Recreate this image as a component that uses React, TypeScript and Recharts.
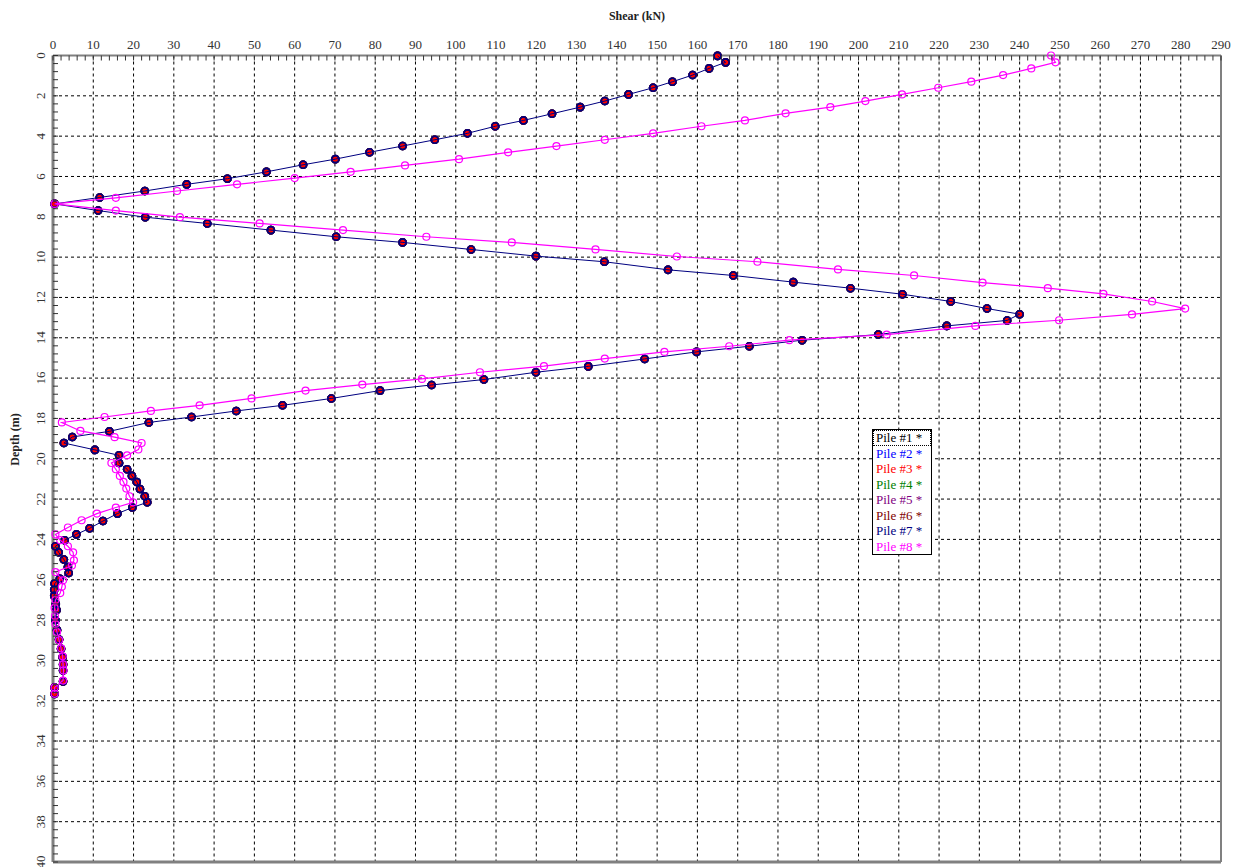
import React from "react";
import { ScatterChart, Scatter, XAxis, YAxis, ReferenceLine } from "recharts";

// piles #1 - #7 give the same shear profile
const depthA = [
  0.02, 0.34, 0.64, 0.97, 1.3, 1.6, 1.93, 2.26, 2.56, 2.89, 3.22, 3.51, 3.86, 4.18, 4.49, 4.8,
  5.14, 5.42, 5.77, 6.11, 6.39, 6.72, 7.04, 7.36, 7.69, 8.02, 8.33, 8.66, 8.99, 9.27, 9.62, 9.95,
  10.23, 10.63, 10.91, 11.24, 11.54, 11.84, 12.2, 12.55, 12.83, 13.14, 13.41, 13.84, 14.12, 14.42,
  14.7, 15.05, 15.42, 15.71, 16.07, 16.34, 16.62, 17.01, 17.35, 17.63, 17.93, 18.2, 18.64, 18.92,
  19.22, 19.56, 19.83, 20.21, 20.52, 20.85, 21.15, 21.5, 21.86, 22.16, 22.42, 22.72, 23.09, 23.45,
  23.75, 24.04, 24.34, 24.64, 25.0, 25.37, 25.67, 25.95, 26.19, 26.5, 26.8, 27.2, 27.5, 28.0, 28.5,
  28.97, 29.42, 29.84, 30.2, 30.5, 31.04, 31.35, 31.66,
];
const shearA = [
  165, 167, 162.9, 158.8, 153.8, 149, 142.9, 137, 130.9, 123.9, 116.8, 109.8, 102.9, 94.8, 86.8, 78.6,
  70.1, 62.1, 53, 43.3, 33.2, 22.8, 11.6, 0.4, 11.2, 22.9, 38.3, 54.1, 70.3, 86.8, 103.8, 119.9,
  136.9, 152.7, 168.9, 183.8, 198, 210.9, 222.9, 231.9, 240, 236.9, 221.9, 204.9, 186, 172.9,
  159.8, 146.9, 132.9, 119.9, 107, 94, 81.2, 69.1, 57, 45.5, 34.4, 23.8, 14, 4.8,
  2.7, 10.4, 16.4, 16.4, 18.4, 19.6, 20.8, 21.6, 22.8, 23.4, 19.7, 16, 12.4, 9.1,
  5.8, 2.9, 0.6, 1.4, 2.7, 3.7, 3.9, 1.7, 0.4, 0.3, 0.3, 0.7, 0.9, 0.6, 1.0,
  1.5, 2.0, 2.4, 2.5, 2.5, 2.5, 0.4, 0.4,
];

// pile #8
const depthB = [
  0.0, 0.34, 0.64, 0.97, 1.3, 1.6, 1.93, 2.26, 2.56, 2.87, 3.22, 3.51, 3.86, 4.18, 4.49, 4.8,
  5.14, 5.45, 5.77, 6.08, 6.39, 6.72, 7.06, 7.36, 7.69, 8.02, 8.33, 8.66, 8.99, 9.27, 9.62, 9.97,
  10.23, 10.61, 10.91, 11.26, 11.54, 11.82, 12.2, 12.55, 12.84, 13.13, 13.41, 13.84, 14.12, 14.42,
  14.7, 15.03, 15.41, 15.71, 16.04, 16.32, 16.62, 17.01, 17.35, 17.63, 17.93, 18.2, 18.62, 18.93,
  19.22, 19.54, 19.83, 20.21, 20.52, 20.85, 21.15, 21.48, 21.86, 22.16, 22.42, 22.72, 23.05, 23.41,
  23.75, 24.04, 24.34, 24.64, 25.04, 25.3, 25.62, 26.03, 26.35, 26.66, 27.0, 27.4, 27.8, 28.2, 28.6,
  29.0, 29.4, 29.8, 30.2, 30.5, 31.0, 31.35, 31.66,
];
const shearB = [
  247.8, 248.9, 242.9, 235.9, 228, 219.8, 210.8, 201.7, 193, 181.9, 171.8, 161, 149, 137, 125, 113,
  100.8, 87.4, 73.9, 60, 45.7, 30.8, 15.6, 0.4, 15.6, 31.5, 51.3, 72, 92.7, 113.9, 134.7, 154.9,
  174.9, 194.9, 213.8, 230.8, 247, 260.8, 272.9, 281.1, 267.9, 249.8, 229, 207, 182.8, 167.9,
  151.8, 137, 121.9, 106, 91.6, 76.8, 62.7, 49.3, 36.4, 24.3, 12.8, 2.2, 6.8, 15.3,
  22, 21.2, 18.4, 14.5, 15.6, 16.6, 17.5, 18.2, 19, 19.9, 15.6, 10.9, 7.1, 3.7,
  0.6, 1.8, 3.7, 5, 5.2, 4.7, 0.6, 2.5, 2.2, 1.8, 0.6, 0.4, 0.5, 0.6, 1.0,
  1.5, 2.0, 2.4, 2.5, 2.6, 2.5, 0.4, 0.4,
];

const pileNames = ["Pile #1 *", "Pile #2 *", "Pile #3 *", "Pile #4 *", "Pile #5 *", "Pile #6 *", "Pile #7 *", "Pile #8 *"];
const pileColors = ["#000000", "#0000FF", "#FF0000", "#008000", "#800080", "#800000", "#000080", "#FF00FF"];

const xLabels = [0, 10, 20, 30, 40, 50, 60, 70, 80, 90, 100, 110, 120, 130, 140, 150, 160, 170, 180, 190, 200, 210, 220, 230, 240, 250, 260, 270, 280, 290];
const yLabels = [0, 2, 4, 6, 8, 10, 12, 14, 16, 18, 20, 22, 24, 26, 28, 30, 32, 34, 36, 38, 40];

const xTicks = Array.from({ length: 146 }, (_, i) => i * 2);
const yTicks = Array.from({ length: 101 }, (_, i) => Math.round(i * 4) / 10);

const rowsA = depthA.map((d, i) => ({ depth: d, shear: shearA[i] }));
const rowsB = depthB.map((d, i) => ({ depth: d, shear: shearB[i] }));

const FONT = '"Liberation Serif", "Times New Roman", serif';
const TM = 2;

const XTick = (props: any) => {
  const { x, y, payload } = props;
  const lineY = y + TM;
  const v = payload.value;
  return (
    <g>
      <line x1={x} x2={x} y1={lineY} y2={lineY + 5} stroke="#333" strokeWidth={1} />
      {xLabels.includes(v) && (
        <text x={x} y={lineY - 7} textAnchor="middle" fontSize={13} fontFamily={FONT} fill="#333">
          {v}
        </text>
      )}
    </g>
  );
};

const YTick = (props: any) => {
  const { x, y, payload } = props;
  const lineX = x + TM;
  const v = payload.value;
  const tx = lineX - 8;
  return (
    <g>
      <line x1={lineX} x2={lineX + 5} y1={y} y2={y} stroke="#333" strokeWidth={1} />
      {yLabels.includes(v) && (
        <text x={tx} y={y} transform={`rotate(-90 ${tx} ${y})`} textAnchor="middle" fontSize={13} fontFamily={FONT} fill="#333">
          {v}
        </text>
      )}
    </g>
  );
};

const marker = (color: string, filled: boolean) => (p: any) =>
  filled ? (
    <circle cx={p.cx} cy={p.cy} r={3} fill={color} stroke="none" />
  ) : (
    <circle cx={p.cx} cy={p.cy} r={3.5} fill="none" stroke={color} strokeWidth={color === "#FF00FF" ? 1.2 : 1.6} />
  );

export default function App() {
  return (
    <div style={{ position: "absolute", left: 0, top: 0, width: 1243, height: 867, background: "#fff", fontFamily: FONT }}>
      <ScatterChart width={1243} height={867} margin={{ top: 25.5, left: 13, right: 22, bottom: 5 }}>
        <XAxis
          type="number"
          dataKey="shear"
          orientation="top"
          domain={[0, 290]}
          ticks={xTicks}
          interval={0}
          height={30}
          tickSize={0}
          tickMargin={TM}
          tickLine={false}
          tick={<XTick />}
          axisLine={{ stroke: "#808080", strokeWidth: 2 }}
        />
        <YAxis
          type="number"
          dataKey="depth"
          reversed
          domain={[0, 40]}
          ticks={yTicks}
          interval={0}
          width={40}
          tickSize={0}
          tickMargin={TM}
          tickLine={false}
          tick={<YTick />}
          axisLine={{ stroke: "#808080", strokeWidth: 3 }}
        />
        {xLabels.slice(1, -1).map((v) => (
          <ReferenceLine key={`gx${v}`} x={v} stroke="#000" strokeDasharray="3 3" strokeWidth={1} />
        ))}
        {yLabels.slice(1, -1).map((v) => (
          <ReferenceLine key={`gy${v}`} y={v} stroke="#000" strokeDasharray="3 3" strokeWidth={1} />
        ))}
        <ReferenceLine x={290} stroke="#808080" strokeWidth={2} />
        <ReferenceLine y={40} stroke="#808080" strokeWidth={3} />
        {pileNames.slice(0, 7).map((name, i) => (
          <Scatter
            key={name}
            name={name}
            data={rowsA}
            line={i === 6 ? { stroke: pileColors[i], strokeWidth: 1 } : false}
            lineJointType="linear"
            shape={marker(pileColors[i], i === 2)}
            isAnimationActive={false}
          />
        ))}
        <Scatter
          name={pileNames[7]}
          data={rowsB}
          line={{ stroke: pileColors[7], strokeWidth: 1.2 }}
          lineJointType="linear"
          shape={marker(pileColors[7], false)}
          isAnimationActive={false}
        />
      </ScatterChart>

      <div
        style={{
          position: "absolute",
          left: 600,
          top: 9,
          width: 74,
          textAlign: "center",
          fontWeight: "bold",
          fontSize: 12,
          color: "#222",
        }}
      >
        Shear (kN)
      </div>
      <div
        style={{
          position: "absolute",
          left: -22,
          top: 432,
          width: 74,
          textAlign: "center",
          fontWeight: "bold",
          fontSize: 12,
          color: "#222",
          transform: "rotate(-90deg)",
        }}
      >
        Depth (m)
      </div>

      <div
        style={{
          position: "absolute",
          left: 872,
          top: 429,
          width: 58,
          height: 124,
          border: "1px solid #000",
          background: "#fff",
          boxSizing: "content-box",
        }}
      >
        {pileNames.map((name, i) => (
          <div
            key={name}
            style={{
              color: pileColors[i],
              fontSize: 13,
              lineHeight: "15.5px",
              paddingLeft: 3,
              outline: i === 0 ? "1px dotted #000" : "none",
              outlineOffset: -1,
              whiteSpace: "nowrap",
            }}
          >
            {name}
          </div>
        ))}
      </div>
    </div>
  );
}
